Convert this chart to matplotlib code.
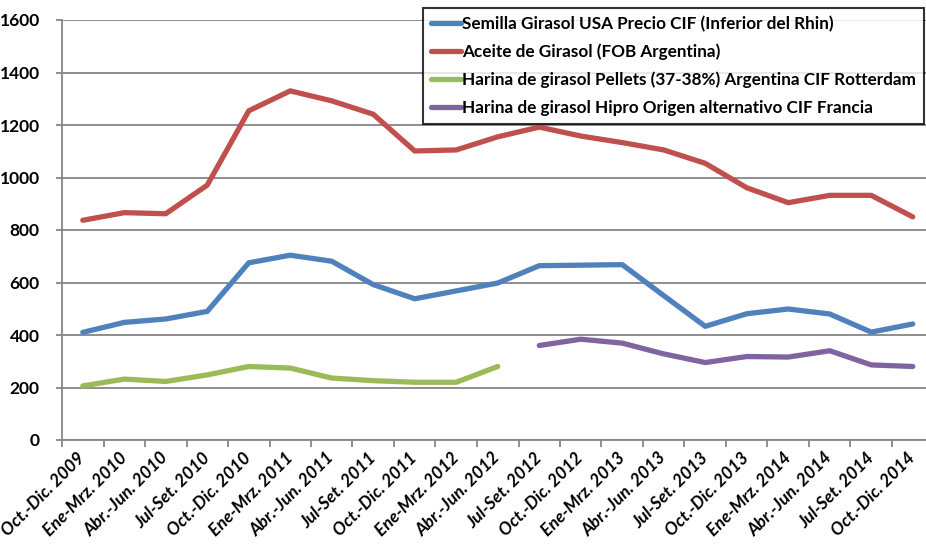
import matplotlib
matplotlib.use("Agg")
import matplotlib.pyplot as plt
import numpy as np

categories = ["Oct.-Dic. 2009", "Ene-Mrz. 2010", "Abr.-Jun. 2010", "Jul-Set. 2010",
              "Oct.-Dic. 2010", "Ene-Mrz. 2011", "Abr.-Jun. 2011", "Jul-Set. 2011",
              "Oct.-Dic. 2011", "Ene-Mrz. 2012", "Abr.-Jun. 2012", "Jul-Set. 2012",
              "Oct.-Dic. 2012", "Ene-Mrz. 2013", "Abr.-Jun. 2013", "Jul-Set. 2013",
              "Oct.-Dic. 2013", "Ene-Mrz. 2014", "Abr.-Jun. 2014", "Jul-Set. 2014",
              "Oct.-Dic. 2014"]

semilla = [410, 448, 461, 490, 675, 704, 681, 592, 538, 568, 598,
           664, 666, 668, 550, 433, 481, 499, 480, 411, 442]
aceite = [837, 866, 862, 971, 1254, 1330, 1292, 1241, 1101, 1105, 1155,
          1192, 1158, 1133, 1105, 1054, 961, 904, 932, 932, 850]
pellets = [206, 232, 223, 248, 280, 274, 236, 226, 220, 220, 280,
           None, None, None, None, None, None, None, None, None, None]
hipro = [None, None, None, None, None, None, None, None, None, None, None,
         360, 384, 369, 328, 295, 318, 316, 340, 286, 280]

labels = ["Semilla Girasol USA Precio CIF (Inferior del Rhin)",
          "Aceite de Girasol (FOB Argentina)",
          "Harina de girasol Pellets (37-38%) Argentina CIF Rotterdam",
          "Harina de girasol Hipro Origen alternativo CIF Francia"]
colors = ["#4F81BD", "#C0504D", "#9BBB59", "#8064A2"]

plt.rcParams['font.family'] = ['Lato', 'DejaVu Sans']

W, H = 926, 557
fig = plt.figure(figsize=(W / 100, H / 100), dpi=100)
ax = fig.add_axes([62 / W, (H - 440) / H, 871.5 / W, 420 / H])

x = np.arange(len(categories))
def arr(v):
    return np.array([np.nan if a is None else a for a in v], dtype=float)

for series, lab, col in zip([semilla, aceite, pellets, hipro], labels, colors):
    ax.plot(x, arr(series), color=col, lw=3.8, label=lab, solid_capstyle='round',
            solid_joinstyle='round')

ax.set_xlim(-0.5, len(categories) - 0.5)
ax.set_ylim(0, 1600)
ax.set_yticks(np.arange(0, 1601, 200))
ax.yaxis.grid(True, color="#868686", lw=1.3)
ax.set_axisbelow(True)

ax.set_xticks(np.arange(-0.5, len(categories) + 0.5, 1))
ax.set_xticklabels([])
ax.set_xticks(x, minor=True)
ax.set_xticklabels(categories, minor=True, rotation=45, ha='right', va='center',
                   rotation_mode='anchor', fontsize=12.5, fontweight='bold', style='italic')
ax.tick_params(axis='x', which='minor', length=0, pad=11)
ax.tick_params(axis='x', which='major', length=5, width=1.3, color="#868686", direction='out')
ax.tick_params(axis='y', length=4, width=1.3, color="#868686", direction='out', pad=12)
for t in ax.get_yticklabels():
    t.set_fontsize(12.5)
    t.set_fontweight('bold')

for s in ['top', 'right']:
    ax.spines[s].set_visible(False)
for s in ['left', 'bottom']:
    ax.spines[s].set_color("#868686")
    ax.spines[s].set_linewidth(1.3)

leg = fig.legend(loc='upper left', bbox_to_anchor=(423 / W, 1 - 8 / H),
                 prop={'weight': 'bold', 'size': 12.3}, frameon=True, fancybox=False,
                 edgecolor='black', handlelength=1.75, handletextpad=0.1,
                 labelspacing=0.68, borderpad=0.45, borderaxespad=0)
leg.get_frame().set_linewidth(1.5)
for h in leg.get_lines():
    h.set_linewidth(3.8)

fig.savefig("out.png", dpi=100)
